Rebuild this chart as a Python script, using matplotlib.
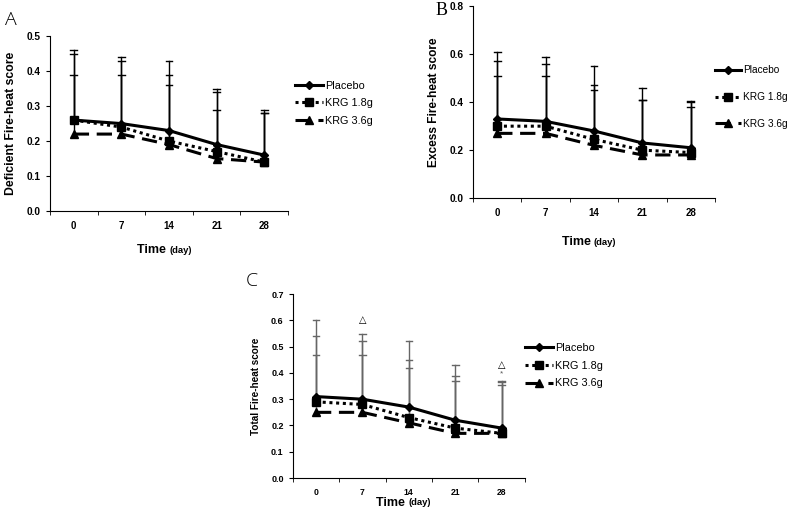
import matplotlib.pyplot as plt

days = ['0', '7', '14', '21', '28']
series_names = ['Placebo', 'KRG 1.8g', 'KRG 3.6g']

# Panel A - Deficient Fire-heat score
a_placebo = [0.26, 0.25, 0.23, 0.19, 0.16]
a_krg18 = [0.26, 0.24, 0.20, 0.17, 0.14]
a_krg36 = [0.22, 0.22, 0.19, 0.15, 0.14]
a_top_placebo = [0.46, 0.44, 0.43, 0.35, 0.29]
a_top_krg18 = [0.45, 0.43, 0.39, 0.34, 0.28]
a_top_krg36 = [0.39, 0.39, 0.36, 0.29, 0.28]

# Panel B - Excess Fire-heat score
b_placebo = [0.33, 0.32, 0.28, 0.23, 0.21]
b_krg18 = [0.30, 0.30, 0.245, 0.20, 0.19]
b_krg36 = [0.27, 0.27, 0.22, 0.18, 0.18]
b_top_placebo = [0.61, 0.59, 0.55, 0.46, 0.405]
b_top_krg18 = [0.57, 0.56, 0.47, 0.41, 0.40]
b_top_krg36 = [0.51, 0.51, 0.45, 0.41, 0.38]

# Panel C - Total Fire-heat score
c_placebo = [0.31, 0.30, 0.27, 0.22, 0.19]
c_krg18 = [0.29, 0.28, 0.23, 0.19, 0.17]
c_krg36 = [0.25, 0.25, 0.21, 0.17, 0.17]
c_top_placebo = [0.60, 0.55, 0.52, 0.43, 0.37]
c_top_krg18 = [0.54, 0.52, 0.45, 0.39, 0.365]
c_top_krg36 = [0.47, 0.47, 0.42, 0.37, 0.355]

plt.rcParams['font.family'] = ['Liberation Sans', 'DejaVu Sans']


def draw_panel(ax, means, tops, ymax, ystep, ylabel, err_color, leg_pos, leg_space,
               leg_fs, tick_fs, label_fs, time_y):
    x = list(range(len(days)))
    styles = [
        dict(linestyle='-', marker='D', markersize=4, lw=2.2),
        dict(linestyle=(0, (1, 1.2)), marker='s', markersize=6, lw=2.2),
        dict(linestyle=(0, (5, 2.5)), marker='^', markersize=6, lw=2.2),
    ]
    # error bars (upper only)
    for m, t in zip(means, tops):
        for i in x:
            ax.plot([i, i], [m[i], t[i]], color=err_color, lw=1.0, zorder=1)
            ax.plot([i - 0.07, i + 0.07], [t[i], t[i]], color=err_color, lw=1.0, zorder=1)
    for m, name, st in zip(means, series_names, styles):
        ax.plot(x, m, color='black', label=name, zorder=3, **st)

    ax.set_xlim(-0.5, len(days) - 0.5)
    ax.set_ylim(0, ymax)
    ax.set_xticks(x)
    ax.set_xticklabels(days, fontsize=tick_fs - 0.3, fontweight='bold')
    ax.set_xticks([i + 0.5 for i in range(-1, len(days))], minor=True)
    ax.tick_params(axis='x', which='major', length=0, pad=7)
    ax.tick_params(axis='x', which='minor', length=3, direction='out')
    yt = [round(i * ystep, 2) for i in range(int(round(ymax / ystep)) + 1)]
    ax.set_yticks(yt)
    ax.set_yticklabels(['%.1f' % v for v in yt], fontsize=tick_fs, fontweight='bold')
    ax.tick_params(axis='y', length=3, direction='out')
    ax.spines['top'].set_visible(False)
    ax.spines['right'].set_visible(False)
    ax.set_ylabel(ylabel, fontsize=label_fs, fontweight='bold', labelpad=7)
    ax.legend(loc='center left', bbox_to_anchor=leg_pos, frameon=False, fontsize=leg_fs,
              handlelength=2.6, handletextpad=0.15, labelspacing=leg_space,
              borderaxespad=0, borderpad=0)

    # x axis title
    ax.text(0.5, time_y, 'Time ', transform=ax.transAxes, ha='right', va='center',
            fontsize=9, fontweight='bold')
    ax.text(0.5, time_y, '(day)', transform=ax.transAxes, ha='left', va='center',
            fontsize=6.8, fontweight='bold')


fig = plt.figure(figsize=(7.87, 5.16), dpi=100)

axA = fig.add_axes([0.0635, 0.591, 0.3025, 0.339])
draw_panel(axA, [a_placebo, a_krg18, a_krg36], [a_top_placebo, a_top_krg18, a_top_krg36],
           0.5, 0.1, 'Deficient Fire-heat score', 'black', (1.029, 0.617), 0.7,
           7.8, 7.3, 8.8, -0.225)

axB = fig.add_axes([0.601, 0.616, 0.3075, 0.372])
draw_panel(axB, [b_placebo, b_krg18, b_krg36], [b_top_placebo, b_top_krg18, b_top_krg36],
           0.8, 0.2, 'Excess Fire-heat score', 'black', (1.0, 0.526), 1.65,
           7.3, 7.3, 8.6, -0.23)

axC = fig.add_axes([0.372, 0.0736, 0.295, 0.3564])
draw_panel(axC, [c_placebo, c_krg18, c_krg36], [c_top_placebo, c_top_krg18, c_top_krg36],
           0.7, 0.1, 'Total Fire-heat score', '#666666', (1.0, 0.61), 0.7,
           7.8, 6.5, 7.2, -0.135)

# significance marks in panel C
axC.text(1, 0.60, '\u25b3', ha='center', va='center', fontsize=7, family='DejaVu Sans')
axC.text(4, 0.43, '\u25b3', ha='center', va='center', fontsize=7, family='DejaVu Sans')
axC.text(4, 0.395, '*', ha='center', va='center', fontsize=6, color='#555555')

# panel letters
fig.text(0.006, 0.962, 'A', fontsize=14, family='Open Sans', fontweight='light', va='center')
fig.text(0.553, 0.980, 'B', fontsize=13, family='Liberation Serif', va='center')
fig.text(0.312, 0.455, 'C', fontsize=14, family='Open Sans', fontweight='light', va='center')

fig.savefig('out.png', dpi=100)
